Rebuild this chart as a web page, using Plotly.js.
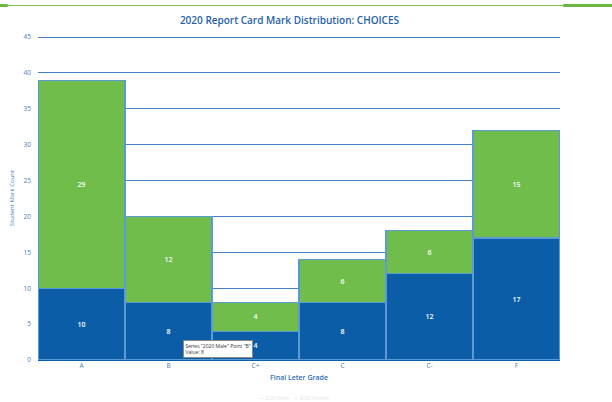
<!DOCTYPE html>
<html>
<head>
<meta charset="utf-8">
<script src="https://cdn.plot.ly/plotly-3.0.1.min.js"></script>
<style>html,body{margin:0;padding:0;background:#fff;}#chart{width:612px;height:402px;}</style>
</head>
<body>
<div id="chart"></div>
<script>
const grades = ["A", "B", "C+", "C", "C-", "F"];
const maleCounts = [10, 8, 4, 8, 12, 17];
const femaleCounts = [29, 12, 4, 6, 6, 15];
const seriesNames = ["2020 Male", "2020 Female"];
const yTicks = [0, 5, 10, 15, 20, 25, 30, 35, 40, 45];

const fontFam = "Open Sans, Liberation Sans, sans-serif";
const traces = [
  {
    type: "bar", name: seriesNames[0], x: grades, y: maleCounts,
    marker: {color: "#0b5da8", line: {color: "#5b9bd5", width: 1.2}},
    text: maleCounts.map(String), textposition: "inside", insidetextanchor: "middle",
    textfont: {color: "#ffffff", size: 7, family: fontFam, weight: 600}, hoverinfo: "skip"
  },
  {
    type: "bar", name: seriesNames[1], x: grades, y: femaleCounts,
    marker: {color: "#70bd4b", line: {color: "#5b9bd5", width: 1.2}},
    text: femaleCounts.map(String), textposition: "inside", insidetextanchor: "middle",
    textfont: {color: "#ffffff", size: 7, family: fontFam, weight: 600}, hoverinfo: "skip"
  }
];

const layout = {
  width: 612, height: 402,
  margin: {l: 38, r: 52, t: 36, b: 42},
  paper_bgcolor: "#ffffff", plot_bgcolor: "#ffffff",
  barmode: "stack", bargap: 0,
  showlegend: false,
  title: {text: "2020 Report Card Mark Distribution: CHOICES", font: {size: 10, color: "#1f5fa8", family: fontFam, weight: 600}, x: 0.473, xanchor: "center", y: 0.95, yanchor: "middle"},
  xaxis: {
    type: "category", categoryorder: "array", categoryarray: grades,
    showgrid: false, zeroline: false, showline: false, ticks: "",
    tickfont: {size: 6.5, color: "#4a7ebb", family: fontFam},
    title: {text: "Final Leter Grade", font: {size: 7, color: "#2e6db4", family: fontFam, weight: 600}, standoff: 6}
  },
  yaxis: {
    range: [0, 45.15], tickvals: yTicks, ticktext: yTicks.map(String),
    showgrid: true, gridcolor: "#4480c6", gridwidth: 1,
    zeroline: true, zerolinecolor: "#0b5da8", zerolinewidth: 2,
    showline: false, ticks: "",
    tickfont: {size: 6.5, color: "#4a7ebb", family: fontFam}, ticklabelstandoff: 6,
    title: {text: "Student Mark Count", font: {size: 6, color: "#3f7fc4", family: fontFam}, standoff: 8}
  },
  shapes: [
    {type: "line", xref: "paper", yref: "paper", x0: -0.073, x1: 1.1, y0: 1.094, y1: 1.094, line: {color: "#7cc150", width: 1}},
    {type: "line", xref: "paper", yref: "paper", x0: -0.073, x1: -0.058, y0: 1.094, y1: 1.094, line: {color: "#6ab842", width: 3}},
    {type: "line", xref: "paper", yref: "paper", x0: 1.006, x1: 1.1, y0: 1.094, y1: 1.094, line: {color: "#6ab842", width: 3}}
  ],
  annotations: [
    {xref: "x", yref: "y", x: 1.17, y: 1.5, xanchor: "left", yanchor: "middle", align: "left",
     text: "Series \"2020 Male\" Point \"B\"<br>Value: 8", showarrow: false,
     font: {size: 5, color: "#333333", family: fontFam},
     bgcolor: "#ffffff", bordercolor: "#888888", borderwidth: 1, borderpad: 1.5},
    {xref: "paper", yref: "paper", x: 0.49, y: -0.117, xanchor: "center", yanchor: "middle",
     text: "— 2020 Male &nbsp; — 2020 Female", showarrow: false,
     font: {size: 5, color: "#e6e6e6", family: fontFam}}
  ]
};

Plotly.newPlot("chart", traces, layout, {displayModeBar: false, staticPlot: true});
</script>
</body>
</html>
